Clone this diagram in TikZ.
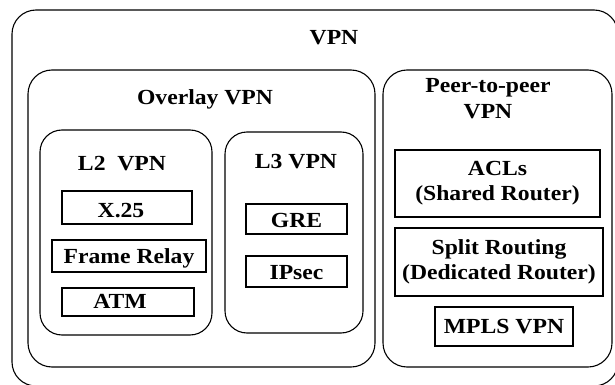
\documentclass[tikz,border=0pt]{standalone}
\usepackage{fontspec}
\setmainfont{Liberation Serif}[FakeStretch=1.1]
\begin{document}
\begin{tikzpicture}[x=1pt,y=-1pt,
  every node/.style={font=\fontsize{21.5}{25}\selectfont\bfseries, inner sep=0pt},
  group/.style={draw, line width=1.1pt, rounded corners=#1},
  group/.default=24pt,
  item/.style={draw, line width=1.6pt, align=center},
  base/.style={text height=#1, text depth=0pt},
  % pushes a single-line label to the left by half the given amount
  nudge/.style={execute at end node={\kern#1}},
  title/.style={anchor=base, align=center}]
\useasboundingbox (0,0) rectangle (615,385);
\clip (0,0) rectangle (615,385);

% nested groups
\node[group, minimum width=606, minimum height=376] (vpn) at (315,198) {};
\node[group, minimum width=347, minimum height=297] (overlay) at (201.5,218.5) {};
\node[group, minimum width=229, minimum height=297] (peer) at (497.5,218.5) {};
\node[group=22pt, minimum width=172, minimum height=205] (l2) at (126,232.5) {};
\node[group=22pt, minimum width=138, minimum height=201] (l3) at (294,232.5) {};

% group titles (multi-line titles sit on the baseline of their last line)
\node[title] (vpnT) at (334,45) {VPN};
\node[title] (overlayT) at (205,105) {Overlay VPN};
\node[title] (peerT) at (488,118) {Peer-to-peer\\VPN};
\node[title] (l2T) at (122,170) {L2\ \ VPN};
\node[title] (l3T) at (296,168) {L3 VPN};

% L2 technologies
\node[item, base=19pt, nudge=12pt, minimum width=130, minimum height=33] (x25) at (127,207.5) {X.25};
\node[item, base=14pt, minimum width=154, minimum height=32] (fr) at (129,256) {Frame Relay};
\node[item, base=12pt, nudge=16pt, minimum width=132, minimum height=28] (atm) at (128,302) {ATM};

% L3 technologies
\node[item, base=16pt, minimum width=101, minimum height=30] (gre) at (296.5,219) {GRE};
\node[item, base=15pt, minimum width=101, minimum height=31] (ipsec) at (296.5,271.5) {IPsec};

% peer-to-peer variants
\node[item, minimum width=205, minimum height=67] (acl) at (497.5,183.5) {ACLs\\(Shared Router)};
\node[item, minimum width=208, minimum height=68] (split) at (499,262) {Split Routing\\(Dedicated Router)};
\node[item, base=13pt, minimum width=138, minimum height=39] (mpls) at (504,326.5) {MPLS VPN};
\end{tikzpicture}
\end{document}
